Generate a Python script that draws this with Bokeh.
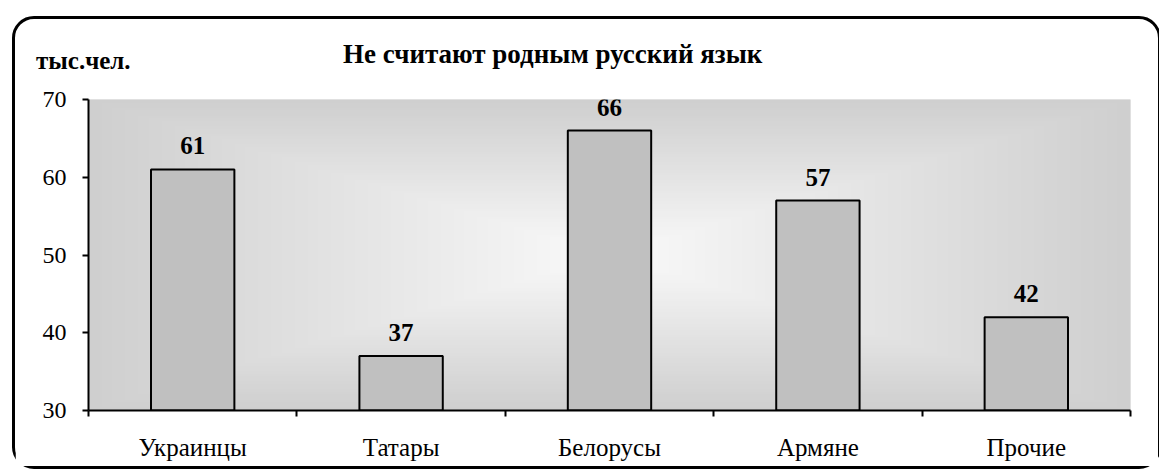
import numpy as np
from bokeh.plotting import figure
from bokeh.layouts import column
from bokeh.models import (Range1d, LinearAxis, FixedTicker,
                          ColumnDataSource, LabelSet, Div)
from bokeh.embed import file_html
from bokeh.resources import INLINE

categories = ["Украинцы", "Татары", "Белорусы", "Армяне", "Прочие"]
values = [61, 37, 66, 57, 42]
value_labels = ["61", "37", "66", "57", "42"]
y_ticks = [30, 40, 50, 60, 70]
title_text = "Не считают родным русский язык"
unit_text = "тыс.чел."

FONT = "Liberation Serif"
y0, y1 = y_ticks[0], y_ticks[-1]
n = len(categories)
centers = [i + 0.5 for i in range(n)]

W_ = 1143
HEAD = 60
ML, MR, MT, MB = 73, 28, 20, 56
FIG_H = MT + 311 + MB

span_css = ("position:absolute;white-space:nowrap;"
            "font-family:&quot;Liberation Serif&quot;,&quot;Times New Roman&quot;,serif;"
            "font-weight:bold;color:#000;line-height:1;")
header = Div(
    text=(f'<div style="position:relative;width:{W_ - 6}px;height:{HEAD}px;">'
          f'<span style="{span_css}left:21px;top:29px;font-size:25px;">{unit_text}</span>'
          f'<span style="{span_css}left:328px;top:22px;font-size:27px;">{title_text}</span>'
          f'</div>'),
    width=W_ - 6, height=HEAD, margin=0,
    styles={"font-family": "'Liberation Serif', serif", "font-weight": "bold"})

p = figure(x_range=Range1d(0, n), y_range=Range1d(y0, y1),
           width=W_, height=FIG_H, output_backend="svg", toolbar_location=None,
           x_axis_location=None, y_axis_location="left",
           min_border_left=ML, min_border_right=MR, min_border_top=MT, min_border_bottom=MB)
p.margin = 0
p.outline_line_color = None
p.xgrid.visible = False
p.ygrid.visible = False
p.background_fill_color = "#d0d0d0"
p.border_fill_color = "white"

# background gradient (rectangular, from centre)
H, W = 120, 400
yy, xx = np.mgrid[0:H, 0:W]
dx = np.abs((xx + 0.5) / W - 0.5) * 2
dy = np.abs((yy + 0.5) / H - 0.5) * 2
t = np.clip(np.maximum(dx, dy), 0, 1)
c = (250 - (250 - 207) * t).astype(np.uint32)
img = (255 << 24) | (c << 16) | (c << 8) | c
p.image_rgba(image=[img.astype(np.uint32)], x=0, y=y0, dw=n, dh=y1 - y0)

src = ColumnDataSource(dict(x=centers, cat=categories, val=values, lab=value_labels))
p.vbar(x="x", top="val", bottom=y0, width=0.4, source=src,
       fill_color="#c0c0c0", line_color="black", line_width=2)

p.add_layout(LabelSet(x="x", y="val", text="lab", source=src, y_offset=15,
                      text_align="center", text_baseline="alphabetic",
                      text_font=FONT, text_font_size="25px", text_font_style="bold",
                      text_color="black"))

# y axis
ya = p.yaxis[0]
ya.ticker = FixedTicker(ticks=y_ticks)
ya.minor_tick_line_color = None
ya.major_tick_in = 0
ya.major_tick_out = 6
ya.major_tick_line_width = 2
ya.axis_line_width = 2
ya.axis_line_color = "black"
ya.major_label_text_font = FONT
ya.major_label_text_font_size = "24px"
ya.major_label_text_color = "black"
ya.major_label_standoff = 16

# x tick axis (ticks between categories)
xt = LinearAxis(ticker=FixedTicker(ticks=list(range(n + 1))))
xt.major_label_text_font_size = "0px"
xt.major_label_standoff = 0
xt.minor_tick_line_color = None
xt.major_tick_in = 0
xt.major_tick_out = 6
xt.major_tick_line_width = 2
xt.axis_line_width = 2
xt.axis_line_color = "black"
p.add_layout(xt, "below")

xc = LinearAxis(ticker=FixedTicker(ticks=centers),
                major_label_overrides={c_: cat for c_, cat in zip(centers, categories)})
xc.axis_line_color = None
xc.major_tick_line_color = None
xc.minor_tick_line_color = None
xc.major_label_text_font = FONT
xc.major_label_text_font_size = "25px"
xc.major_label_text_color = "black"
xc.major_label_standoff = 11
p.add_layout(xc, "below")

layout = column(header, p, spacing=0)
layout.styles = {"border": "3px solid black", "border-radius": "22px",
                 "margin-left": "12px", "margin-top": "16px", "background": "white"}

open("out.html", "w").write(file_html(layout, INLINE))
